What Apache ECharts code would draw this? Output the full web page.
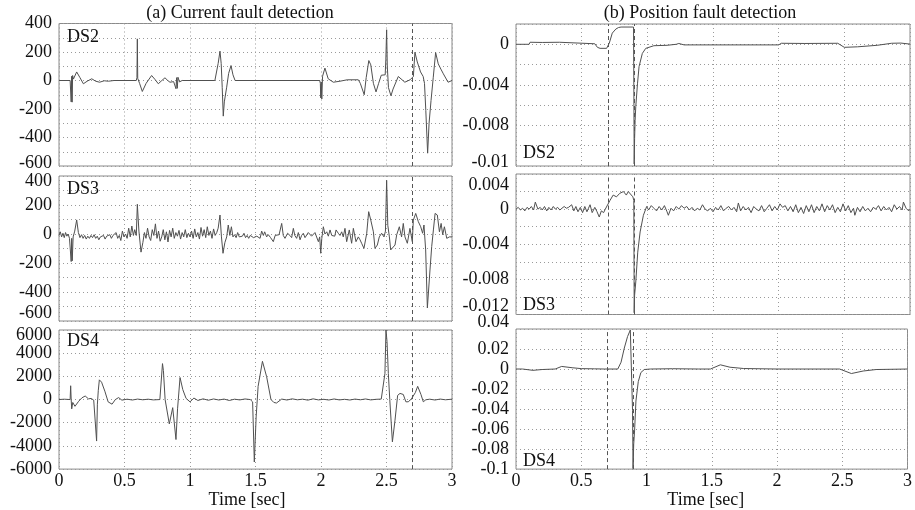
<!DOCTYPE html>
<html><head><meta charset="utf-8">
<script src="https://cdn.jsdelivr.net/npm/echarts@6/dist/echarts.min.js"></script>
<style>html,body{margin:0;padding:0;background:#fff}#c{width:915px;height:510px}</style>
</head><body><div id="c"></div>
<script>
// ---------------- data ----------------
const titles = ['(a) Current fault detection', '(b) Position fault detection'];
const panelNames = ['DS2', 'DS3', 'DS4'];
const xLabel = 'Time [sec]';
const faultLineA = [2.7];
const faultLinesB = [0.7, 0.9];

const yTicksA2 = [400, 200, 0, -200, -400, -600];
const yTicksA3 = [400, 200, 0, -200, -400, -600];
const yTicksA4 = [6000, 4000, 2000, 0, -2000, -4000, -6000];
const yTicksB2 = [0, -0.004, -0.008, -0.012];
const yTextB2 = ['0', '-0.004', '-0.008', '-0.01'];
const yTicksB3 = [0.004, 0, -0.004, -0.008, -0.012];
const yTicksB4 = [0.04, 0.02, 0, -0.02, -0.04, -0.06, -0.08, -0.1];

// (a) current, DS2
const curA2 = [[0,0],[0.085,0],[0.09,-5],[0.093,-150],[0.097,30],[0.1,-152],[0.104,35],[0.11,10],[0.135,60],[0.16,20],[0.186,-23],[0.215,-5],[0.25,12],[0.28,-5],[0.31,-12],[0.345,-2],[0.377,-5],[0.42,0],[0.59,0],[0.595,20],[0.598,292],[0.601,15],[0.615,-20],[0.636,-77],[0.665,-20],[0.707,35],[0.735,5],[0.758,-23],[0.785,0],[0.809,19],[0.83,0],[0.847,-12],[0.875,-8],[0.89,-10],[0.893,-58],[0.898,20],[0.903,-55],[0.908,23],[0.92,-10],[0.94,0],[1.19,0],[1.2,10],[1.215,120],[1.229,206],[1.238,120],[1.246,-50],[1.254,-250],[1.262,-150],[1.28,-47],[1.295,50],[1.313,105],[1.328,40],[1.344,0],[1.99,0],[1.995,-20],[1.998,-122],[2.002,-10],[2.006,-130],[2.012,30],[2.03,87],[2.055,12],[2.094,-12],[2.145,-5],[2.2,5],[2.285,5],[2.3,-20],[2.33,-100],[2.345,20],[2.365,140],[2.38,110],[2.4,-20],[2.42,-80],[2.44,-20],[2.46,37],[2.475,30],[2.49,40],[2.495,150],[2.501,356],[2.506,100],[2.515,-50],[2.534,-107],[2.55,-60],[2.59,28],[2.64,-12],[2.68,5],[2.705,28],[2.717,198],[2.735,130],[2.76,60],[2.78,28],[2.79,-20],[2.8,-210],[2.814,-510],[2.825,-300],[2.84,-140],[2.857,23],[2.875,196],[2.895,117],[2.915,80],[2.934,47],[2.97,-12],[3,0]];

// (a) current, DS3
const curA3 = [[0,-10],[0.01,15],[0.02,-20],[0.03,5],[0.04,-25],[0.05,10],[0.06,-15],[0.07,0],[0.08,-30],[0.088,-20],[0.093,-190],[0.097,-30],[0.101,-185],[0.108,-20],[0.12,20],[0.135,97],[0.148,10],
[0.16,-25],[0.172,-5],[0.184,-30],[0.196,-10],[0.208,-35],[0.22,-15],[0.232,-30],[0.244,-10],[0.256,-25],[0.268,-5],[0.28,-30],[0.292,-15],[0.304,-40],[0.316,-20],[0.328,-30],[0.34,-10],[0.352,-35],[0.364,-15],[0.376,-25],[0.388,-5],[0.4,-30],[0.412,-10],[0.424,-20],[0.436,10],[0.448,-30],[0.46,-10],[0.472,-45],[0.484,20],[0.496,-20],[0.508,0],[0.52,-30],[0.532,40],[0.544,-20],[0.556,55],[0.568,-10],[0.578,30],[0.59,-10],[0.598,205],[0.61,20],[0.626,-125],[0.64,-60],[0.652,10],[0.664,-30],[0.676,40],[0.688,-20],[0.7,-45],[0.712,30],[0.724,-10],[0.736,70],[0.748,-30],[0.76,20],[0.772,-50],
[0.784,-20],[0.796,30],[0.808,-40],[0.82,15],[0.832,-55],[0.844,25],[0.856,-20],[0.868,40],[0.88,-30],[0.892,10],[0.904,-15],[0.916,25],[0.928,-35],[0.94,10],[0.952,-20],[0.964,30],[0.976,-25],[0.988,5],[1.0,-20],[1.012,20],[1.024,-30],[1.036,35],[1.048,-20],[1.06,10],[1.072,-35],[1.084,45],[1.096,-15],[1.108,30],[1.12,-25],[1.132,50],[1.144,-10],[1.156,20],[1.168,-30],[1.18,35],[1.192,-10],[1.204,10],[1.215,40],[1.229,131],[1.24,-20],[1.252,-133],[1.266,-60],[1.28,-20],[1.292,62],[1.304,-10],[1.316,50],[1.328,-20],[1.34,-5],[1.352,-25],[1.364,10],[1.376,-20],[1.388,-30],[1.4,-15],[1.412,5],[1.424,-25],[1.436,-10],[1.448,-30],
[1.46,-10],[1.485,-25],[1.51,-15],[1.535,-30],[1.547,20],[1.56,-10],[1.57,15],[1.585,-20],[1.598,-5],[1.615,-25],[1.636,-53],[1.65,-10],[1.662,-15],[1.68,-5],[1.7,73],[1.712,-10],[1.725,-30],[1.745,5],[1.763,-10],[1.776,-25],[1.789,39],[1.8,-10],[1.814,-30],[1.827,10],[1.84,-40],[1.852,-10],[1.865,5],[1.878,-25],[1.89,-20],[1.903,10],[1.916,15],[1.928,-15],[1.941,-20],[1.954,10],[1.967,5],[1.98,-53],[1.99,-20],[1.998,-133],[2.006,-30],[2.018,50],[2.03,0],[2.044,15],[2.056,-15],[2.069,28],[2.082,-10],[2.094,-5],[2.105,-15],[2.115,28],[2.132,5],[2.145,-10],[2.158,15],[2.17,-20],[2.183,39],[2.196,-53],[2.216,28],[2.234,-64],[2.247,39],[2.267,-53],[2.285,-20],[2.298,-40],[2.31,-64],[2.328,-99],[2.349,5],[2.364,154],[2.38,96],[2.4,15],[2.412,-99],[2.43,-76],[2.445,-20],[2.463,5],[2.481,-20],[2.492,20],[2.501,370],[2.51,60],[2.522,-20],[2.532,-110],[2.547,-122],[2.565,-76],[2.578,-5],[2.598,50],[2.615,-20],[2.628,73],[2.641,-20],[2.659,-64],[2.679,39],[2.697,-53],[2.705,96],[2.723,142],[2.743,85],[2.761,50],[2.776,5],[2.786,62],[2.799,-110],[2.812,-510],[2.832,-248],[2.845,-87],[2.858,28],[2.871,142],[2.888,131],[2.904,15],[2.917,73],[2.929,-5],[2.942,50],[2.96,-30],[2.98,-20],[3,-20]];

// (a) current, DS4
const curA4 = [[0,0],[0.04,30],[0.085,0],[0.089,1190],[0.093,0],[0.097,-805],[0.105,-250],[0.122,-583],[0.15,-150],[0.175,150],[0.2,305],[0.225,60],[0.245,100],[0.265,-50],[0.28,0],[0.287,-3580],[0.293,-400],[0.3,800],[0.308,1700],[0.325,1500],[0.35,720],[0.375,-200],[0.405,-400],[0.43,0],[0.455,170],[0.48,-50],[0.52,30],[0.56,-40],[0.6,40],[0.64,-20],[0.68,30],[0.72,-30],[0.77,0],[0.782,50],[0.79,3100],[0.797,2500],[0.81,0],[0.842,-2100],[0.868,-700],[0.893,-3450],[0.905,-800],[0.924,1900],[0.945,860],[0.97,100],[1.0,-200],[1.03,130],[1.06,-80],[1.1,60],[1.14,-60],[1.18,50],[1.22,-40],[1.26,40],[1.3,-80],[1.34,30],[1.38,-30],[1.42,50],[1.46,0],[1.478,-200],[1.491,-5390],[1.505,-1500],[1.52,1140],[1.553,3300],[1.585,1970],[1.618,0],[1.64,-250],[1.66,-300],[1.7,40],[1.74,-40],[1.78,60],[1.82,-20],[1.86,30],[1.9,-50],[1.94,60],[1.98,-30],[2.02,20],[2.06,-40],[2.1,50],[2.14,-30],[2.18,20],[2.22,-40],[2.26,40],[2.3,-20],[2.34,50],[2.38,-30],[2.42,20],[2.46,40],[2.475,0],[2.488,2250],[2.496,6000],[2.504,5000],[2.514,2250],[2.525,0],[2.545,-3650],[2.565,-1780],[2.585,360],[2.603,530],[2.628,440],[2.648,-195],[2.666,-195],[2.69,50],[2.705,100],[2.72,600],[2.738,1140],[2.763,440],[2.781,-195],[2.8,-20],[2.83,30],[2.87,-40],[2.91,40],[2.95,-20],[3,30]];

// (b) position, DS2
const posB2 = [[0,0],[0.1,0],[0.107,0.0002],[0.2,0.00018],[0.33,0.0002],[0.34,0.00005],[0.6,0.00005],[0.62,-0.0003],[0.64,-0.0004],[0.69,-0.0004],[0.71,0.0001],[0.733,0.0011],[0.76,0.0015],[0.78,0.00165],[0.8,0.0017],[0.895,0.0017],[0.898,-0.006],[0.9,-0.0118],[0.903,-0.0093],[0.907,-0.0075],[0.912,-0.00615],[0.925,-0.0039],[0.937,-0.0022],[0.962,-0.0009],[0.988,-0.0004],[1.05,-0.00014],[1.15,-0.0001],[1.22,0],[1.24,0.00008],[1.28,-0.00006],[2.0,-0.00006],[2.02,0.0001],[2.2,0.00008],[2.45,0.0001],[2.5,-0.0003],[2.6,-0.00025],[2.75,-0.0001],[2.86,0.0001],[2.93,0.00012],[3,0.00002]];

// (b) position, DS3
const posB3 = [[0,0],[0.017,0.0002],[0.034,-0.0001],[0.05,0.0001],[0.067,-0.0002],[0.084,0.0002],[0.1,0],[0.117,0.0003],[0.134,-0.0001],[0.147,0.0008],[0.167,0],[0.184,0.0002],[0.2,-0.0001],[0.217,0.0003],[0.234,-0.0002],[0.25,0.0002],[0.267,-0.0001],[0.284,0.0003],[0.3,0],[0.317,0.0002],[0.334,-0.0001],[0.35,0.0001],[0.367,0.0003],[0.384,0.0001],[0.4,0.0002],[0.424,0.0005],[0.44,-0.0002],[0.456,0.0003],[0.472,-0.0003],[0.49,0.0002],[0.507,-0.0004],[0.524,0.0003],[0.54,-0.0003],[0.552,0.0001],[0.564,0.0005],[0.58,-0.0004],[0.6,0.0002],[0.617,-0.0003],[0.634,-0.0009],[0.65,-0.0002],[0.667,-0.0004],[0.68,0],
[0.69,0],[0.716,0.001],[0.74,0.0016],[0.765,0.0014],[0.79,0.0018],[0.805,0.0017],[0.818,0.002],[0.84,0.0016],[0.855,0.002],[0.87,0.0018],[0.89,0.0014],[0.897,0.001],[0.9,-0.0118],[0.903,-0.0098],[0.912,-0.0083],[0.927,-0.0049],[0.945,-0.0026],[0.97,-0.0007],[0.995,0.0003],[1.01,-0.0001],[1.03,0.0004],
[1.05,0.0001],[1.07,-0.0002],[1.09,0.0003],[1.11,-0.0001],[1.13,0.0004],[1.15,-0.0003],[1.16,-0.0007],[1.18,0.0001],[1.2,-0.0002],[1.22,0.0003],[1.24,0],[1.26,0.0004],[1.28,0.0001],[1.3,0.0003],[1.32,-0.0001],[1.34,0.0002],[1.36,-0.0002],[1.38,0.0001],[1.4,-0.0001],[1.42,0.0005],[1.44,0],[1.46,-0.0002],[1.48,0.0001],[1.5,-0.0003],[1.52,0.0002],[1.54,-0.0001],[1.56,0.0004],[1.58,-0.0002],[1.6,0.0001],[1.62,0.0003],[1.64,-0.0001],[1.66,0.0002],[1.68,-0.0003],[1.693,0.0007],[1.71,-0.0002],[1.73,0.0003],[1.75,-0.0001],[1.77,0.0002],[1.79,-0.0004],[1.81,0.0003],[1.83,0],[1.85,-0.0002],[1.87,0.0004],[1.89,-0.0003],[1.91,0.0001],[1.93,0.0005],[1.95,-0.0002],[1.97,0.0003],[1.99,-0.0001],[2.01,0.0006],[2.03,0.0002],[2.05,0.0004],[2.07,-0.0002],[2.09,0.0003],[2.11,-0.0003],[2.13,0.0005],[2.15,-0.0004],[2.17,0.0002],[2.19,-0.0005],[2.21,0.0004],[2.23,-0.0003],[2.25,0.0005],[2.27,-0.0004],[2.29,0.0003],[2.31,-0.0002],[2.33,0.0006],[2.35,-0.0003],[2.37,0.0004],[2.39,-0.0001],[2.41,0.0005],[2.43,-0.0004],[2.45,0.0002],[2.47,-0.0003],[2.49,0.0006],[2.51,-0.0002],[2.53,0.0004],[2.55,-0.0004],[2.57,0.0001],[2.58,-0.0007],[2.6,0.0002],[2.62,-0.0003],[2.64,0.0003],[2.66,-0.0002],[2.68,0.0001],[2.7,-0.0003],[2.72,0.0002],[2.74,0],[2.76,0.0004],[2.78,-0.0002],[2.8,0.0003],[2.82,-0.0001],[2.84,0.0002],[2.86,-0.0003],[2.88,0.0005],[2.9,0],[2.92,0.0003],[2.94,-0.0001],[2.95,0.0008],[2.97,0.0001],[2.99,-0.0002],[3,0]];

// (b) position, DS4
const posB4 = [[0,0],[0.05,0],[0.13,-0.0013],[0.2,-0.0005],[0.3,0],[0.35,0.0026],[0.43,0.0013],[0.5,0.0004],[0.6,0.0002],[0.68,0],[0.78,0],[0.805,0.0068],[0.83,0.021],[0.855,0.0325],[0.876,0.039],[0.886,0.04],[0.89,0.04],[0.893,-0.0415],[0.897,-0.0995],[0.902,-0.075],[0.909,-0.061],[0.919,-0.032],[0.937,-0.0126],[0.957,-0.0035],[0.983,-0.0005],[1.03,0],[1.2,0.0003],[1.4,0],[1.49,0],[1.566,0.0042],[1.64,0.0018],[1.745,0.0005],[2.0,0],[2.48,0],[2.57,-0.0045],[2.66,-0.002],[2.76,-0.0005],[3,0]];

// ---------------- chart ----------------
const FONT = 'Liberation Serif';
const FS = 18;
const TXT = '#111';

const panels = [
  {grid:{left:59, top:23.5, width:393, height:142.5}, data:curA2, lines:faultLineA, name:panelNames[0], nx:67, ny:37.5,
   y:{min:-600, max:400, interval:100, ticks:yTicksA2, texts:null, shift:{5:-3}}, bottom:false},
  {grid:{left:59, top:176, width:393, height:145}, data:curA3, lines:faultLineA, name:panelNames[1], nx:67, ny:189,
   y:{min:-600, max:400, interval:100, ticks:yTicksA3, texts:null, shift:{0:5, 5:-8}}, bottom:false},
  {grid:{left:59, top:330, width:393, height:144}, data:curA4, lines:faultLineA, name:panelNames[2], nx:67, ny:341.5,
   y:{min:-6000, max:6000, interval:2000, ticks:yTicksA4, texts:null, shift:{0:5}}, bottom:true, xc:247},
  {grid:{left:516, top:24, width:394, height:142}, data:posB2, lines:faultLinesB, name:panelNames[0], nx:523, ny:153,
   y:{min:-0.012, max:0.002, interval:0.002, ticks:yTicksB2, texts:yTextB2, shift:{3:-4}}, bottom:false},
  {grid:{left:516, top:174, width:394, height:140.5}, data:posB3, lines:faultLinesB, name:panelNames[1], nx:523, ny:305.5,
   y:{min:-0.012, max:0.004, interval:0.002, ticks:yTicksB3, texts:null, shift:{0:11, 4:-8}}, bottom:false},
  {grid:{left:516, top:329, width:394, height:145}, data:posB4, lines:faultLinesB, name:panelNames[2], nx:523, ny:461.5,
   y:{min:-0.1, max:0.04, interval:0.02, ticks:yTicksB4, texts:null, shift:{0:-7}}, bottom:true, xc:707}
];

const fontBase = {fontFamily: FONT, fontSize: FS, color: TXT};
const dotted = {color:'#9a9a9a', type:[1,3], width:1};

function yFormatter(cfg) {
  return function (v) {
    for (let i = 0; i < cfg.ticks.length; i++) {
      if (Math.abs(v - cfg.ticks[i]) < cfg.interval * 1e-6) {
        const t = cfg.texts ? cfg.texts[i] : String(cfg.ticks[i]);
        const s = cfg.shift[i] || 0;
        if (s > 0) return '{d|' + t + '}';
        if (s < 0) return '{u|' + t + '}';
        return t;
      }
    }
    return '';
  };
}
function richFor(cfg) {
  let dn = 0, up = 0;
  Object.keys(cfg.shift).forEach(k => {
    const s = cfg.shift[k];
    if (s > 0) dn = s; else up = -s;
  });
  return {
    d: Object.assign({}, fontBase, {padding:[2*dn,0,0,0]}),
    u: Object.assign({}, fontBase, {padding:[0,0,2*up,0]})
  };
}

const option = {
  animation: false,
  backgroundColor: '#fff',
  grid: panels.map(p => Object.assign({show:true, borderColor:'#8a8a8a', borderWidth:1, backgroundColor:'transparent'}, p.grid)),
  xAxis: panels.map((p, i) => ({
    type:'value', gridIndex:i, min:0, max:3, interval:0.5,
    axisLine:{show:false}, axisTick:{show:false},
    splitLine:{show:true, lineStyle:dotted},
    axisLabel: Object.assign({show:p.bottom, margin:3, hideOverlap:false}, fontBase),
    name: p.bottom ? xLabel : '',
    nameLocation:'middle', nameGap:15,
    nameTextStyle: Object.assign({}, fontBase, {padding:[0, (p.grid.left + p.grid.width/2 - (p.xc||0))*2, 0, 0]})
  })),
  yAxis: panels.map((p, i) => ({
    type:'value', gridIndex:i, min:p.y.min, max:p.y.max, interval:p.y.interval,
    axisLine:{show:false}, axisTick:{show:false},
    splitLine:{show:true, lineStyle:dotted},
    axisLabel: Object.assign({margin:7, hideOverlap:false, formatter:yFormatter(p.y), rich:richFor(p.y)}, fontBase)
  })),
  series: panels.map((p, i) => ({
    type:'line', xAxisIndex:i, yAxisIndex:i, data:p.data, showSymbol:false, symbol:'none',
    lineStyle:{color:'#505050', width:1}, clip:true,
    markLine:{silent:true, symbol:['none','none'], label:{show:false},
      lineStyle:{color:'#555', type:[4,3], width:1},
      data:p.lines.map(x => ({xAxis:x}))}
  })),
  graphic: [
    {type:'text', x:240, y:13, style:{text:titles[0], fontFamily:FONT, fontSize:FS, fill:TXT, align:'center', verticalAlign:'middle', textAlign:'center', textVerticalAlign:'middle'}},
    {type:'text', x:700, y:13, style:{text:titles[1], fontFamily:FONT, fontSize:FS, fill:TXT, align:'center', verticalAlign:'middle', textAlign:'center', textVerticalAlign:'middle'}}
  ].concat(panels.map(p => ({type:'text', x:p.nx, y:p.ny, z:10,
    style:{text:p.name, fontFamily:FONT, fontSize:FS, fill:TXT, align:'left', verticalAlign:'middle', textAlign:'left', textVerticalAlign:'middle'}})))
};

const chart = echarts.init(document.getElementById('c'), null, {renderer:'canvas'});
chart.setOption(option);
</script>
</body></html>
